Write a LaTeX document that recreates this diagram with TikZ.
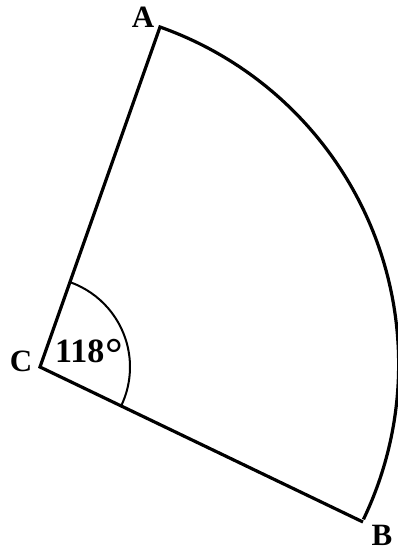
\documentclass[tikz,border=0pt]{standalone}
\usepackage{fontspec}
\setmainfont{Liberation Serif}
\usetikzlibrary{calc}
\begin{document}
\begin{tikzpicture}[x=1pt,y=-1pt,
  edge/.style={line width=3.2pt,line join=miter,black},
  smallarc/.style={line width=2pt,black},
  lbl/.style={font=\fontsize{31}{36}\selectfont\bfseries,inner sep=0pt}]
\useasboundingbox (0,0) rectangle (397,552);
\coordinate (C) at (40,367);
\coordinate (A) at (160,27);
\coordinate (B) at (363,522);
% sector outline
\draw[edge] (B) -- (C) -- (A) arc[start angle=-70.53,end angle=25.63,radius=358];
% angle mark
\draw[smallarc] ($(C)+(-70.53:90)$) arc[start angle=-70.53,end angle=25.63,radius=90];
\node[lbl] (lA) at (143,17) {A};
\node[lbl] (lC) at (21,361) {C};
\node[lbl] (lB) at (382,535) {B};
\node[lbl,font=\fontsize{34}{36}\selectfont\bfseries,anchor=base west] (ang) at (55,362)
  {118\kern1pt\raisebox{-6pt}{\fontsize{44}{44}\selectfont °}};
\end{tikzpicture}
\end{document}
